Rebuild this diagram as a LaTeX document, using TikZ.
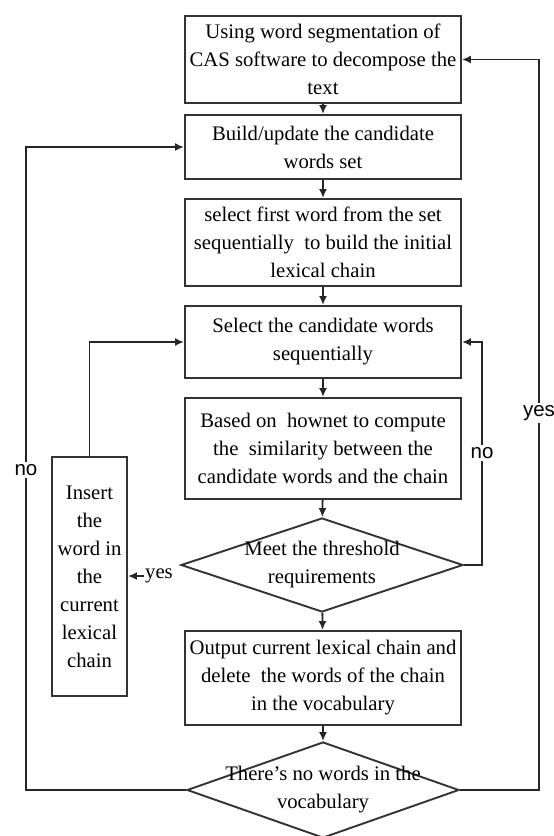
\documentclass[tikz,border=0pt]{standalone}
\usepackage{fontspec}
\setmainfont{Liberation Serif}
\newfontfamily\ynfont{Liberation Sans}
\usetikzlibrary{arrows.meta,shapes.geometric}

\begin{document}
\begin{tikzpicture}[x=1pt,y=-1pt,
  box/.style={draw=black!80,line width=1.9pt,fill=white,minimum width=276pt,inner sep=0pt,align=center,font=\fontsize{20.7}{28}\selectfont},
  cond/.style={draw=black!80,line width=1.9pt,diamond,inner sep=0pt},
  ctext/.style={font=\fontsize{20.7}{28}\selectfont,align=center},
  flow/.style={line width=1.9pt,draw=black!85,-{Latex[length=9pt,width=8pt]}},
  yn/.style={font=\ynfont\fontsize{20.5}{24}\selectfont,fill=white,inner sep=2pt}]
  \useasboundingbox (0,0) rectangle (554,836);
  \node[box,minimum height=87pt] (box1) at (323,59.5) {Using word segmentation of\\CAS software to decompose the\\text};
  \node[box,minimum height=64pt] (box2) at (323,147) {Build/update the candidate\\words set};
  \node[box,minimum height=87pt] (box3) at (323,242.5) {select first word from the set\\sequentially\ \ to build the initial\\lexical chain};
  \node[box,minimum height=72pt] (box4) at (323,342) {Select the candidate words\\sequentially};
  \node[box,minimum height=101pt] (box5) at (323,448.5) {Based on\ \ hownet to compute\\the\ \ similarity between the\\candidate words and the chain};
  \node[cond,minimum width=282pt,minimum height=94pt,label={[ctext]center:{Meet the threshold\\requirements}}] (dec1) at (322,565) {};
  \node[box,minimum height=94pt] (box6) at (323,678) {Output current lexical chain and\\delete\ \ the words of the chain\\in the vocabulary};
  \node[cond,minimum width=272pt,minimum height=96pt,label={[ctext]center:{There's no words in the\\vocabulary}}] (dec2) at (323,790) {};
  \node[box,minimum width=75pt,minimum height=239pt] (ins) at (89.5,576.5) {Insert\\the\\word in\\the\\current\\lexical\\chain};
  \node[ctext,inner sep=1pt] (yesL) at (159,576) {yes};
  \coordinate (cL) at (26,470);
  \coordinate (cR) at (482,453);
  \coordinate (cY) at (539,413);
  \foreach \a/\b in {box1/box2,box2/box3,box3/box4,box4/box5,box5/dec1,dec1/box6,box6/dec2}
    \draw[flow] (\a) -- (\b);
  \draw[flow] (ins.north) |- (box4.west);
  \draw[flow] (yesL.west) -- (yesL.west -| ins.east);
  \draw[flow] (dec1.east) -| (cR) node[yn] {no} |- (box4.east);
  \draw[flow] (dec2.west) -| (cL) node[yn] {no} |- (box2.west);
  \draw[flow] (dec2.east) -| (cY) node[yn] {yes} |- (box1.east);
\end{tikzpicture}
\end{document}
